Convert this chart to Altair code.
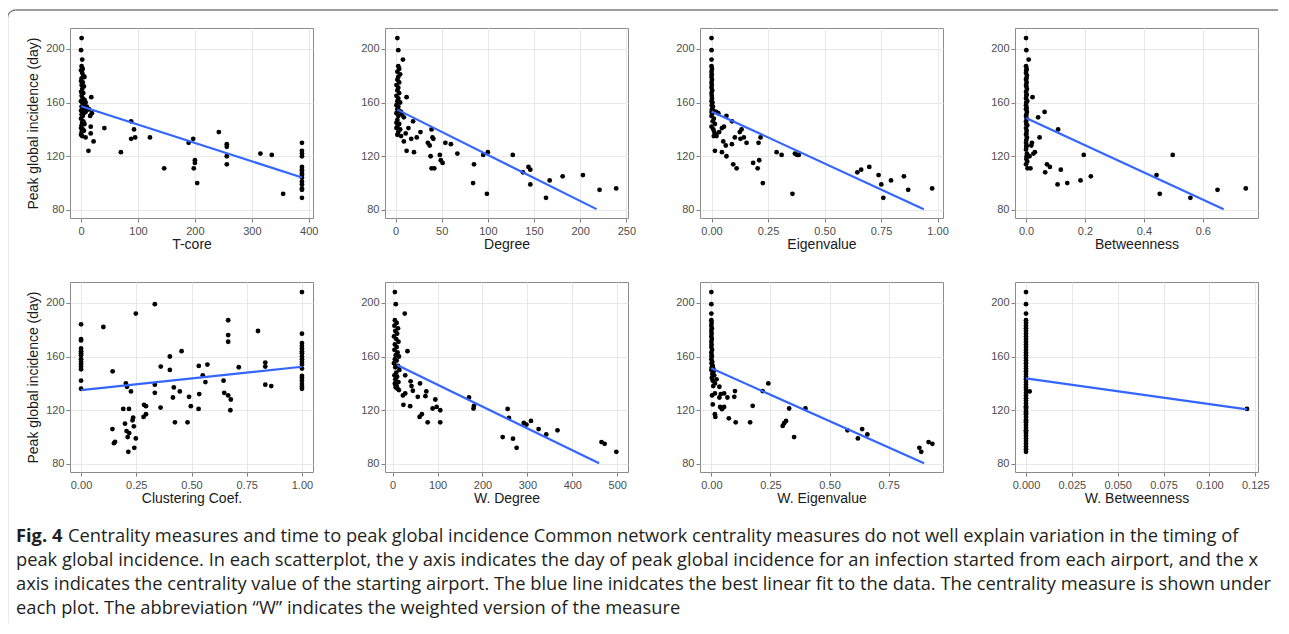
import altair as alt
import pandas as pd

Y_TITLE = "Peak global incidence (day)"
Y_DOMAIN = [74, 215.5]
Y_MAJOR = [80, 120, 160, 200]
Y_MINOR = [100, 140, 180]

# ---------------- T-core ----------------
tcore_x = [1, 0, 2, 1, 3, 0, 2, 4, 1, 6, 0, 3, 1, 5, 2, 0, 4, 1, 3, 6, 0, 2, 8, 4, 1, 10, 3, 6, 12, 0, 2, 5, 8, 1, 3, 0, 4, 2, 6, 1, 0, 3, 5, 1, 0, 2, 8,
           18, 19, 17, 17, 22, 13, 16, 14,
           41, 70, 88, 93, 88, 95, 121, 146, 189, 197, 200, 200, 198, 204, 242, 256, 256, 256, 256, 315, 335, 355,
           388, 388, 388, 388, 388, 388, 388, 388, 388, 388, 388, 388, 388, 388, 388]
tcore_y = [208, 199, 192, 187, 185, 184, 182, 180, 178, 179, 176, 175, 173, 172, 170, 168, 167, 165, 163, 162, 161, 160, 160, 158, 157, 157, 156, 155, 155, 154, 153, 152, 153, 151, 150, 148, 146, 145, 144, 143, 141, 140, 139, 138, 136, 135, 134,
           164, 152, 142, 137, 131, 124, 150, 155,
           141, 123, 146, 140, 133, 134, 134, 111, 130, 133, 117, 115, 111, 100, 138, 129, 127, 120, 114, 122, 121, 92,
           130, 124, 122, 120, 112, 110, 109, 107, 106, 104, 101, 99, 96, 95, 89]
tcore_fit_x = [0, 388]
tcore_fit_y = [157.2, 104.2]

# ---------------- Degree ----------------
degree_x = [2, 3, 8, 3, 4, 2, 5, 3, 2, 4, 1, 3, 2, 4, 1, 3, 2, 5, 1, 3, 2, 4, 6, 1, 7, 3, 2, 1, 4, 2, 1, 5, 3, 2, 6,
            12, 9, 19, 14, 11, 17, 23, 27, 9, 12, 20, 39, 40, 41, 35, 37, 54, 60, 67, 38, 48, 49, 51, 39, 42,
            85, 84, 95, 100, 99, 127, 138, 144, 146, 146, 163, 167, 181, 203, 221, 239]
degree_y = [208, 199, 192, 187, 185, 183, 181, 179, 177, 175, 173, 171, 169, 167, 165, 163, 161, 160, 158, 157, 155, 154, 153, 152, 151, 150, 147, 145, 144, 142, 141, 140, 138, 136, 135,
            164, 149, 146, 141, 137, 133, 134, 138, 131, 124, 123, 140, 134, 133, 130, 128, 130, 129, 122, 120, 121, 117, 115, 111, 111,
            114, 100, 121, 123, 92, 121, 108, 112, 110, 99, 89, 102, 105, 106, 95, 96]
degree_fit_x = [1.8, 217.7]
degree_fit_y = [154.7, 80.6]

# ---------------- Eigenvalue ----------------
eigen_x = [0.0, 0.0, 0.0, 0.0, 0.002, 0.0, 0.001, 0.0, 0.002, 0.0, 0.001, 0.0, 0.003, 0.0, 0.001, 0.002, 0.0, 0.004, 0.001, 0.006, 0.002, 0.008, 0.0, 0.012, 0.004, 0.02, 0.03, 0.0, 0.01, 0.005, 0.015, 0.0, 0.008, 0.012, 0.02, 0.01,
           0.066, 0.091, 0.055, 0.046, 0.034, 0.022, 0.015, 0.046, 0.066, 0.052, 0.063, 0.09, 0.103, 0.125, 0.133, 0.128, 0.143, 0.155, 0.096, 0.111,
           0.184, 0.204, 0.211, 0.217, 0.208, 0.227, 0.288, 0.31, 0.358, 0.369, 0.379, 0.386,
           0.645, 0.662, 0.698, 0.739, 0.751, 0.76, 0.794, 0.851, 0.87, 0.976]
eigen_y = [208, 199, 192, 187, 185, 183, 181, 179, 177, 175, 173, 171, 169, 167, 165, 163, 161, 160, 158, 157, 155, 154, 153, 153, 152, 153, 152, 150, 148, 146, 144, 142, 140, 138, 136, 135,
           150, 146, 142, 141, 138, 135, 124, 123, 120, 131, 128, 129, 134, 138, 140, 133, 134, 130, 114, 111,
           115, 111, 117, 134, 130, 100, 123, 121, 92, 122, 121, 121,
           108, 110, 112, 106, 99, 89, 102, 105, 95, 96]
eigen_fit_x = [0, 0.939]
eigen_fit_y = [153.4, 80.5]

# ---------------- Betweenness ----------------
betw_x = [0.0, 0.001, 0.009, 0.0, 0.002, 0.001, 0.0, 0.003, 0.001, 0.0, 0.002, 0.0, 0.001, 0.003, 0.0, 0.002, 0.001, 0.0, 0.004, 0.001, 0.0, 0.002, 0.0, 0.003, 0.001, 0.0, 0.002, 0.0, 0.001, 0.004, 0.0, 0.002, 0.001, 0.0, 0.003, 0.001, 0.0, 0.002, 0.001, 0.0, 0.003, 0.002, 0.001, 0.004, 0.0,
          0.022, 0.041, 0.063, 0.046, 0.109, 0.02, 0.025, 0.03, 0.015, 0.005, 0.012, 0.018,
          0.071, 0.081, 0.065, 0.118, 0.107, 0.14, 0.185, 0.196, 0.22, 0.443, 0.454, 0.498, 0.558, 0.65, 0.746]
betw_y = [208, 199, 192, 187, 185, 184, 182, 180, 178, 177, 175, 173, 172, 170, 168, 166, 165, 163, 161, 160, 158, 156, 155, 153, 151, 150, 148, 146, 144, 143, 141, 139, 137, 136, 134, 132, 130, 128, 127, 125, 122, 120, 118, 116, 114,
          164, 149, 153, 134, 140, 130, 122, 123, 111, 111, 120, 128,
          114, 112, 108, 110, 99, 100, 102, 121, 105, 106, 92, 121, 89, 95, 96]
betw_fit_x = [0, 0.671]
betw_fit_y = [148.5, 80.5]

# ---------------- Clustering Coef. ----------------
clust_x = [0, 0, 0, 0, 0, 0, 0, 0, 0, 0, 0, 0, 0, 0,
           0.101, 0.143, 0.142, 0.149, 0.154, 0.203, 0.208, 0.191, 0.217, 0.226, 0.199, 0.206, 0.218, 0.211, 0.233, 0.236, 0.239, 0.248, 0.241, 0.214, 0.248,
           0.285, 0.294, 0.283, 0.294, 0.334, 0.334, 0.334, 0.36, 0.361, 0.402, 0.402, 0.42, 0.416, 0.425, 0.447, 0.455, 0.482, 0.489, 0.497,
           0.533, 0.535, 0.551, 0.563, 0.572, 0.532, 0.645, 0.648, 0.666, 0.666, 0.666, 0.666, 0.678, 0.676, 0.714, 0.801, 0.834, 0.834, 0.834, 0.861,
           1, 1, 1, 1, 1, 1, 1, 1, 1, 1, 1, 1, 1, 1, 1, 1, 1, 1]
clust_y = [184, 173, 172, 166, 164, 162.5, 161, 158, 156, 154.5, 152.5, 150.5, 142, 136,
           182, 149, 106, 95.5, 96.5, 140, 137.5, 121, 121, 134, 110, 104.5, 103, 100, 112.5, 114.5, 108, 99, 92, 89, 192,
           124, 123, 115, 117, 199, 139, 133, 122, 152.5, 160, 150, 137, 129.5, 111, 134, 164, 111, 130, 123,
           153, 132, 146, 141, 154, 121, 142, 133, 187, 176, 171, 131, 128, 120, 152, 179, 155.5, 152.5, 139, 138,
           208, 177, 170, 168, 166, 164, 162.5, 160, 158, 156, 154, 151, 145.5, 144, 142, 139.5, 137.5, 136]
clust_fit_x = [0, 1]
clust_fit_y = [135, 152.4]

# ---------------- W. Degree ----------------
wdeg_x = [5, 7, 27, 5, 9, 4, 12, 6, 10, 3, 8, 13, 5, 9, 4, 11, 7, 14, 5, 9, 3, 12, 6, 15, 8, 4, 10, 6, 13, 5, 9, 7, 11, 14, 6,
          33, 28, 40, 42, 45, 23, 28, 24, 39, 61, 56, 75, 73, 60, 65, 78, 95, 89, 98, 106, 106,
          170, 181, 180, 245, 256, 259, 268, 276, 292, 298, 308, 325, 342, 367, 465, 472, 498]
wdeg_y = [208, 199, 192, 187, 185, 183, 181, 179, 177, 175, 173, 171, 169, 167, 165, 163, 161, 160, 158, 157, 155, 153, 152, 150, 148, 146, 145, 143, 141, 140, 138, 137, 136, 135, 139,
          164, 146, 141.5, 138, 134.5, 131, 132.5, 124, 123, 140, 130, 134, 130.5, 115, 117, 111, 128, 121.3, 122.5, 120, 111,
          129.5, 123.3, 121.3, 100, 121, 114.3, 98.8, 92, 110.5, 109.3, 112, 106, 102, 105, 96.3, 95, 89]
wdeg_fit_x = [9.9, 459.6]
wdeg_fit_y = [153.7, 80.5]

# ---------------- W. Eigenvalue ----------------
weig_x = [0.0, 0.0, 0.0, 0.0, 0.001, 0.0, 0.002, 0.0, 0.001, 0.0, 0.002, 0.0, 0.001, 0.0, 0.003, 0.0, 0.001, 0.002, 0.0, 0.004, 0.001, 0.006, 0.002, 0.008, 0.0, 0.01, 0.004, 0.012, 0.002, 0.006, 0.015, 0.008, 0.003,
          0.022, 0.034, 0.015, 0.04, 0.006, 0.015, 0.017, 0.037, 0.045, 0.054, 0.034, 0.054, 0.068, 0.074, 0.097, 0.1, 0.103,
          0.164, 0.175, 0.217, 0.241, 0.302, 0.308, 0.316, 0.329, 0.35, 0.398,
          0.576, 0.62, 0.638, 0.66, 0.88, 0.888, 0.919, 0.935]
weig_y = [208, 199, 192, 187, 185, 183, 181, 179, 177, 175, 173, 171, 169, 167, 165, 163, 161, 160, 158, 156, 155, 153, 152, 151, 150, 149, 147, 146, 144, 142, 140, 138, 131,
          143, 137.5, 132.5, 132, 124.3, 117, 115, 122.5, 120.8, 122.5, 129.5, 132.5, 129.5, 114, 130, 134.3, 111,
          111, 123.3, 134.3, 140, 108.3, 110.3, 112, 121.3, 100, 121.3,
          105, 99, 106, 102, 92, 89, 96.3, 95]
weig_fit_x = [0, 0.9]
weig_fit_y = [151.2, 80.5]

# ---------------- W. Betweenness ----------------
wbet_x = [0, 0, 0, 0, 0, 0, 0, 0, 0, 0, 0, 0, 0, 0, 0, 0, 0, 0, 0, 0, 0, 0, 0, 0, 0, 0, 0, 0, 0, 0, 0, 0, 0, 0, 0, 0, 0, 0, 0, 0, 0, 0, 0, 0, 0, 0, 0, 0, 0, 0, 0, 0, 0, 0, 0, 0, 0,
          0.002, 0.1205]
wbet_y = [208, 199, 192, 187, 185, 183, 181, 179, 177, 175, 173, 171, 169, 167, 165, 163, 161, 159, 157, 155, 153, 151, 149, 147, 145, 143, 141, 139, 137, 135, 133, 131, 129, 127, 125, 123, 121, 119, 117, 115, 113, 111, 109, 107, 105, 103, 101, 99, 97, 95, 93, 91, 89, 122, 118, 112, 104,
          134, 121]
wbet_fit_x = [0, 0.1205]
wbet_fit_y = [143.7, 120.7]

PANELS = [
    dict(title="T-core", x=tcore_x, y=tcore_y, fx=tcore_fit_x, fy=tcore_fit_y,
         domain=[-19.4, 407.4], major=[0, 100, 200, 300, 400], minor=[50, 150, 250, 350], fmt="d"),
    dict(title="Degree", x=degree_x, y=degree_y, fx=degree_fit_x, fy=degree_fit_y,
         domain=[-11.4, 251.8], major=[0, 50, 100, 150, 200, 250], minor=[25, 75, 125, 175, 225], fmt="d"),
    dict(title="Eigenvalue", x=eigen_x, y=eigen_y, fx=eigen_fit_x, fy=eigen_fit_y,
         domain=[-0.051, 1.024], major=[0, 0.25, 0.5, 0.75, 1.0], minor=[0.125, 0.375, 0.625, 0.875], fmt=".2f"),
    dict(title="Betweenness", x=betw_x, y=betw_y, fx=betw_fit_x, fy=betw_fit_y,
         domain=[-0.0375, 0.7875], major=[0, 0.2, 0.4, 0.6], minor=[0.1, 0.3, 0.5, 0.7], fmt=".1f"),
    dict(title="Clustering Coef.", x=clust_x, y=clust_y, fx=clust_fit_x, fy=clust_fit_y,
         domain=[-0.05, 1.05], major=[0, 0.25, 0.5, 0.75, 1.0], minor=[0.125, 0.375, 0.625, 0.875], fmt=".2f"),
    dict(title="W. Degree", x=wdeg_x, y=wdeg_y, fx=wdeg_fit_x, fy=wdeg_fit_y,
         domain=[-17, 524], major=[0, 100, 200, 300, 400, 500], minor=[50, 150, 250, 350, 450], fmt="d"),
    dict(title="W. Eigenvalue", x=weig_x, y=weig_y, fx=weig_fit_x, fy=weig_fit_y,
         domain=[-0.048, 0.98], major=[0, 0.25, 0.5, 0.75], minor=[0.125, 0.375, 0.625, 0.875], fmt=".2f"),
    dict(title="W. Betweenness", x=wbet_x, y=wbet_y, fx=wbet_fit_x, fy=wbet_fit_y,
         domain=[-0.006, 0.1265], major=[0, 0.025, 0.05, 0.075, 0.1, 0.125],
         minor=[0.0125, 0.0375, 0.0625, 0.0875, 0.1125], fmt=".3f"),
]

CAPTION_BOLD = "Fig. 4"
CAPTION_LINES = [
    "Centrality measures and time to peak global incidence Common network centrality measures do not well explain variation in the timing of",
    "peak global incidence. In each scatterplot, the y axis indicates the day of peak global incidence for an infection started from each airport, and the x",
    "axis indicates the centrality value of the starting airport. The blue line inidcates the best linear fit to the data. The centrality measure is shown under",
    "each plot. The abbreviation \u201cW\u201d indicates the weighted version of the measure",
]
CAPTION_ROWS = [0, 1, 2, 3]
CAPTION_INDENT = [52, 0, 0, 0]

FONT = "Liberation Sans"
CAP_FONT = "Open Sans"
CAP_SIZE = 18.3
W, H = 243, 190


def cond(major, on, off):
    return {"condition": {"test": f"indexof({major}, datum.value) >= 0", "value": on}, "value": off}


def make_axis(major, minor, fmt, title, is_y):
    vals = sorted(major + minor)
    kw = dict(
        values=vals,
        format=fmt,
        labelExpr=f"indexof({major}, datum.value) >= 0 ? datum.label : ''",
        gridColor=cond(major, "#e8e8e8", "#f6f6f6"),
        tickOpacity=cond(major, 1, 0),
        labelFlush=False,
        labelOverlap=False,
        title=title if title else None,
    )
    if is_y:
        kw.update(labelPadding=2, titlePadding=5)
    else:
        kw.update(labelPadding=3, titlePadding=1)
    return alt.Axis(**kw)


def caption_layer():
    cap_df = pd.DataFrame({"row": CAPTION_ROWS, "text": CAPTION_LINES, "dx": CAPTION_INDENT})
    bold_df = pd.DataFrame({"row": [0], "text": [CAPTION_BOLD]})
    # caption rows sit below the bottom-left panel: 24 px per row
    cys = alt.Scale(domain=[-10.625, -2.7083], reverse=True, nice=False, zero=False)
    txt = alt.Chart(cap_df).mark_text(
        align="left", baseline="middle", font=CAP_FONT, fontSize=CAP_SIZE, color="#231f20"
    ).encode(
        x=alt.value(-54),
        y=alt.Y("row:Q", scale=cys, axis=None),
        text="text:N",
        xOffset=alt.XOffset("dx:Q", scale=None),
    )
    bold = alt.Chart(bold_df).mark_text(
        align="left", baseline="middle", font=CAP_FONT, fontSize=CAP_SIZE, fontWeight="bold", color="#231f20"
    ).encode(
        x=alt.value(-54),
        y=alt.Y("row:Q", scale=cys, axis=None),
        text="text:N",
    )
    return alt.layer(bold, txt)


def panel(i, p):
    pts = pd.DataFrame({"x": p["x"], "y": p["y"]})
    fit = pd.DataFrame({"x": p["fx"], "y": p["fy"]})
    xs = alt.Scale(domain=p["domain"], nice=False, zero=False)
    ys = alt.Scale(domain=Y_DOMAIN, nice=False, zero=False)
    xa = make_axis(p["major"], p["minor"], p["fmt"], p["title"], False)
    ya = make_axis(Y_MAJOR, Y_MINOR, "d", Y_TITLE if i % 4 == 0 else None, True)
    points = alt.Chart(pts).mark_circle(size=23, color="black", opacity=1).encode(
        x=alt.X("x:Q", scale=xs, axis=xa),
        y=alt.Y("y:Q", scale=ys, axis=ya),
    )
    line = alt.Chart(fit).mark_line(color="#3366FF", strokeWidth=2.2).encode(
        x=alt.X("x:Q", scale=xs),
        y=alt.Y("y:Q", scale=ys),
    )
    layers = [points, line]
    if i == 0:
        one = pd.DataFrame({"k": [0]})
        fc = "#7a7a7a"
        left = alt.Chart(one).mark_rule(color=fc, strokeWidth=1.3).encode(
            x=alt.value(-62.5), y=alt.value(-10), y2=alt.value(595))
        top = alt.Chart(one).mark_rule(color=fc, strokeWidth=1.3).encode(
            y=alt.value(-18), x=alt.value(-54.5), x2=alt.value(1208))
        corner = alt.Chart(one).mark_arc(
            theta=4.7124, theta2=6.2832, innerRadius=7.35, outerRadius=8.65, color=fc
        ).encode(x=alt.value(-54.5), y=alt.value(-10))
        layers = [left, top, corner] + layers
    base = alt.layer(*layers)
    if i == 4:
        base = alt.layer(base, caption_layer()).resolve_scale(y="independent")
    return base.properties(width=W, height=H)


panels = [panel(i, PANELS[i]) for i in range(8)]

chart = alt.concat(
    *panels, columns=4, spacing={"row": 64, "column": 72}, bounds="flush"
).properties(
    padding={"left": -2, "top": 0, "right": 0, "bottom": 0}
).configure_view(
    stroke="#8c8c8c", strokeWidth=1
).configure_axis(
    labelFont=FONT, labelFontSize=11, labelColor="#4d4d4d",
    titleFont=FONT, titleFontSize=14, titleFontWeight="normal", titleColor="#1a1a1a",
    tickColor="#7f7f7f", tickSize=4, domain=False, gridWidth=1,
)

chart.save("out.html", embed_options={"renderer": "svg", "actions": False})
